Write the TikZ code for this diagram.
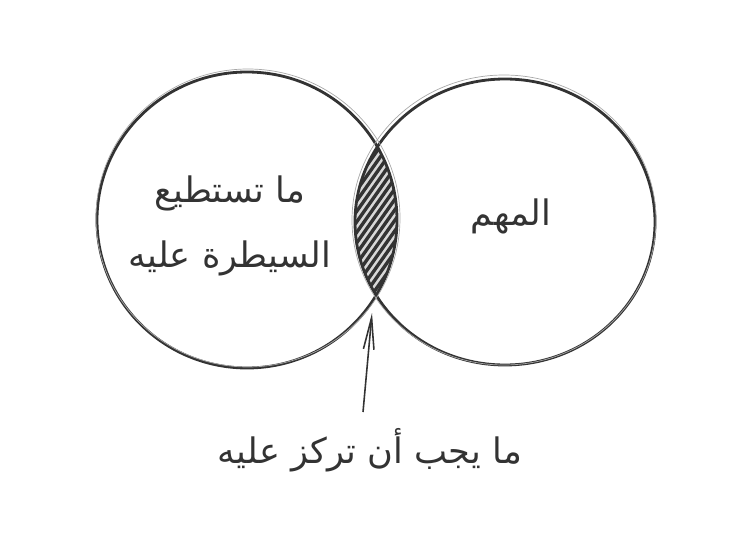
\documentclass[tikz,border=0pt]{standalone}
\usepackage{fontspec}
\newfontfamily\arabicfont[Script=Arabic]{DejaVu Sans}
\TeXXeTstate=1
\usetikzlibrary{arrows.meta}
\begin{document}
\begin{tikzpicture}[x=0.02cm,y=-0.02cm]
  \definecolor{pencil}{HTML}{333333}
  \definecolor{smudge}{HTML}{A8A8A8}
  \tikzset{label/.style={font=\arabicfont\fontsize{20}{37}\selectfont,text=pencil,align=center}}
  \useasboundingbox (0,0) rectangle (750,547);
  % pale shading of the overlap
  \begin{scope}
    \clip (247,220) circle [x radius=150, y radius=148];
    \clip (505,222) circle [x radius=150, y radius=143];
    \fill [smudge!45] (340,140) rectangle (400,300);
    \foreach \k in {0,...,19}
      \draw [pencil,line width=1.9pt] (340,172+10.5*\k) -- ++(60,-85);
  \end{scope}
  \draw [pencil,line width=1.6pt] (247,220) circle [x radius=150, y radius=148];
  \draw [pencil,line width=1.6pt] (505,222) circle [x radius=150, y radius=143];
  \draw [smudge,line width=0.4pt] (248,218) circle [x radius=152, y radius=149];
  \draw [smudge,line width=0.4pt] (504,220) circle [x radius=152, y radius=145];
  \node [label] (control) at (230,226) {\beginR ما تستطيع\endR\\\beginR السيطرة عليه\endR};
  \node [label] (matters) at (511,216) {\beginR المهم\endR};
  \node [label] (focus) at (370,450) {\beginR ما يجب أن تركز عليه\endR};
  \coordinate (tip) at (372,313);
  \coordinate (tail) at (363,412);
  \draw [pencil,line width=0.9pt,-{Straight Barb[length=18pt,width=6pt]}] (tail) -- (tip);
\end{tikzpicture}
\end{document}
